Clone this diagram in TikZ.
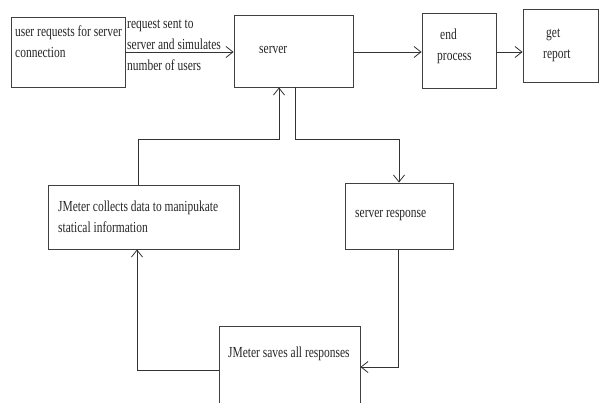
\documentclass[tikz,border=0pt]{standalone}
\usepackage{fontspec}
\setmainfont{Liberation Serif}[FakeStretch=0.75]
\usetikzlibrary{arrows.meta}

\begin{document}
\begin{tikzpicture}[x=1pt, y=-1pt]

\useasboundingbox (0,0) rectangle (599,402);
\clip (0,0) rectangle (599,402);

\begin{scope}[every node/.style={rectangle, draw=black!75, line width=0.8pt, inner sep=0pt}]
    \node[minimum width=114, minimum height=70] (user) at (68,52) {};
    \node[minimum width=119, minimum height=72] (server) at (293.5,51) {};
    \node[minimum width=74, minimum height=75] (endp) at (459,50.5) {};
    \node[minimum width=75, minimum height=73] (report) at (560.5,45.5) {};
    \node[minimum width=191, minimum height=64] (collect) at (143.5,217) {};
    \node[minimum width=108, minimum height=66] (resp) at (399,216) {};
    \node[minimum width=141, minimum height=94] (saves) at (289.5,373) {};
\end{scope}

\begin{scope}[every node/.style={anchor=west, inner sep=0pt, align=left, font=\fontsize{15.3}{21}\selectfont, text=black!85}]
    \node (tuser) at (15,42) {user requests for server\\connection};
    \node (treq) at (127,45) {request sent to\\server and simulates\\number of users};
    \node (tserver) at (259,50) {server};
    \node (tend) at (437,46) {\hspace{3pt}end\\process};
    \node (treport) at (543,45) {\hspace{3pt}get\\report};
    \node (tcollect) at (58,216.5) {JMeter collects data to manipukate\\statical information};
    \node (tresp) at (355,216) {server response};
    \node (tsaves) at (228,354) {JMeter saves all responses};
\end{scope}

\coordinate (c1) at (279,139);
\coordinate (c2) at (138,139);
\coordinate (c3) at (295,139);
\coordinate (c4) at (399,139);
\coordinate (c5) at (398,367);
\coordinate (c6) at (137,370);

\begin{scope}[-{Straight Barb[length=7pt, width=11pt]}, line width=0.8pt, black!80]
    \draw (user.east |- 0,52) -- (server.west |- 0,52);
    \draw (server.east |- 0,52) -- (endp.west |- 0,52);
    \draw (endp.east |- 0,52) -- (report.west |- 0,52);
    \draw (c2 |- collect.north) -- (c2) -- (c1) -- (c1 |- server.south);
    \draw (c3 |- server.south) -- (c3) -- (c4) -- (c4 |- resp.north);
    \draw (c5 |- resp.south) -- (c5) -- (c5 -| saves.east);
    \draw (c6 -| saves.west) -- (c6) -- (c6 |- collect.south);
\end{scope}

\end{tikzpicture}
\end{document}
